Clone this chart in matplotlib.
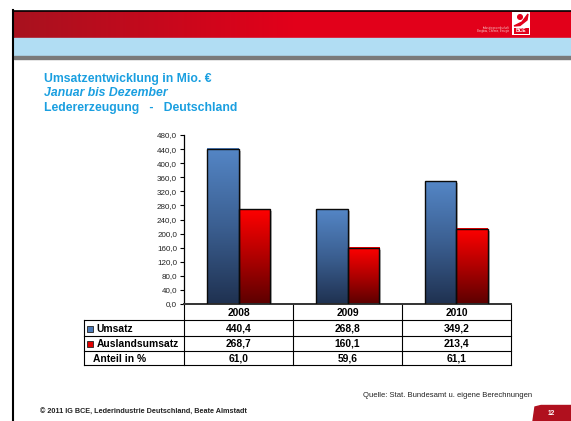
import numpy as np
import matplotlib
matplotlib.use('Agg')
import matplotlib.pyplot as plt
from matplotlib.patches import Rectangle, Circle, Polygon
from matplotlib.colors import LinearSegmentedColormap
import matplotlib.transforms as mtransforms

plt.rcParams['font.family'] = ['Liberation Sans', 'DejaVu Sans']

# data
years = ['2008', '2009', '2010']
umsatz = [440.4, 268.8, 349.2]
ausland = [268.7, 160.1, 213.4]
anteil = [61.0, 59.6, 61.1]
row_labels = ['Umsatz', 'Auslandsumsatz', 'Anteil in %']
title_lines = ['Umsatzentwicklung in Mio. €', 'Januar bis Dezember', 'Ledererzeugung   -   Deutschland']
yticks = list(range(0, 481, 40))

W, H = 571, 421
fig = plt.figure(figsize=(W / 100, H / 100), dpi=100)
fig.patch.set_facecolor('white')

# background axes in pixel coordinates
bg = fig.add_axes([0, 0, 1, 1])
bg.set_xlim(0, W)
bg.set_ylim(H, 0)
bg.axis('off')

# header: black frame line, red gradient band, light blue band, gray line
bg.plot([13, W], [10.5, 10.5], color='black', lw=1.2)
bg.plot([13, 13], [10, H], color='black', lw=1.5)
red_band = LinearSegmentedColormap.from_list('rb', ['#a8121f', '#e2001a', '#e3001b'])
bg.imshow(np.linspace(0, 1, 256)[None, :], cmap=red_band, extent=[14, W, 38, 11],
          aspect='auto', zorder=1)
bg.add_patch(Rectangle((14, 38), W - 14, 18, color='#b1ddf3', zorder=1))
bg.add_patch(Rectangle((14, 56), W - 14, 3, color='#7a7a7a', zorder=1))

# logo
bg.add_patch(Rectangle((512, 11.5), 18, 23, facecolor='white', edgecolor='none', zorder=2))
bg.add_patch(Circle((520, 17), 2.3, color='#e2001a', zorder=3))
bg.add_patch(Polygon([[514, 26], [522, 22], [528, 14], [527, 20], [520, 25.5]],
                     closed=True, color='#e2001a', zorder=3))
bg.add_patch(Rectangle((513.5, 28), 15, 5.5, facecolor='#e2001a', edgecolor='none', zorder=3))
bg.text(521, 31, 'BCE', color='white', fontsize=3.5, fontweight='bold', ha='center', va='center', zorder=4)
bg.text(509, 27.5, 'Industriegewerkschaft', color='#f3c0c0', fontsize=2, ha='right', va='center', zorder=4)
bg.text(509, 31, 'Bergbau, Chemie, Energie', color='#f3c0c0', fontsize=2, ha='right', va='center', zorder=4)

# titles
title_col = '#1a9fe0'
bg.text(44, 82, title_lines[0], color=title_col, fontsize=8.8, fontweight='bold', va='baseline')
bg.text(44, 95.5, title_lines[1], color=title_col, fontsize=8.8, fontweight='bold',
        fontstyle='italic', va='baseline')
bg.text(44, 110.5, title_lines[2], color=title_col, fontsize=8.8, fontweight='bold', va='baseline')

# chart axes
x_left, x_right, y_top, y_bot = 184, 511, 135, 304
ax = fig.add_axes([x_left / W, 1 - y_bot / H, (x_right - x_left) / W, (y_bot - y_top) / H])
ax.patch.set_alpha(0)

blue_cmap = LinearSegmentedColormap.from_list('bl', ['#1f3150', '#3b5f91', '#5486c6'])
red_cmap = LinearSegmentedColormap.from_list('rd', ['#5c0000', '#b00000', '#ff0000'])
grad = np.linspace(0, 1, 256)[:, None]
bw = 0.285
shadow_tr = ax.transData + mtransforms.ScaledTranslation(2 / 100, -2 / 100, fig.dpi_scale_trans)

x = np.arange(len(years))
for i in range(len(years)):
    for val, x0, cm in [(umsatz[i], x[i] - bw, blue_cmap), (ausland[i], x[i], red_cmap)]:
        ax.add_patch(Rectangle((x0, 0), bw, val, transform=shadow_tr, facecolor='#9a9a9a',
                               edgecolor='none', alpha=0.7, zorder=1))
        ax.imshow(grad, cmap=cm, origin='lower', extent=[x0, x0 + bw, 0, val],
                  aspect='auto', zorder=2)
        ax.add_patch(Rectangle((x0, 0), bw, val, fill=False, edgecolor='#0a0a0a', lw=1.0, zorder=3))

ax.set_xlim(-0.5, len(years) - 0.5)
ax.set_ylim(0, 480)
ax.set_yticks(yticks)
ax.set_yticklabels([f'{v:.1f}'.replace('.', ',') for v in yticks], fontsize=5.8, color='#222222')
ax.tick_params(axis='y', length=3, width=0.8, pad=2)
ax.set_xticks([])
for s in ['top', 'right']:
    ax.spines[s].set_visible(False)
ax.spines['left'].set_linewidth(0.9)
ax.spines['bottom'].set_linewidth(1.4)
ax.spines['bottom'].set_color('#333333')

# data table below
col_edges = [x_left, 293, 402, x_right]
row_edges = [304, 320, 336, 351, 365]
tab_lw = 0.8
for ye in row_edges[1:]:
    bg.plot([84, x_right], [ye, ye], color='black', lw=tab_lw)
bg.plot([84, 84], [row_edges[1], row_edges[-1]], color='black', lw=tab_lw)
for xe in col_edges:
    bg.plot([xe, xe], [row_edges[0], row_edges[-1]], color='black', lw=tab_lw)

tfs = 7.4
for j, yr in enumerate(years):
    cx = (col_edges[j] + col_edges[j + 1]) / 2
    bg.text(cx, (row_edges[0] + row_edges[1]) / 2 + 0.5, yr, fontsize=tfs, fontweight='bold',
            ha='center', va='center')

rows = [umsatz, ausland, anteil]
markers = ['#4a78b5', '#e00000', None]
for r, (lab, vals, mc) in enumerate(zip(row_labels, rows, markers)):
    cy = (row_edges[r + 1] + row_edges[r + 2]) / 2 + 0.5
    if mc is not None:
        bg.add_patch(Rectangle((87, cy - 3), 6, 6, facecolor=mc, edgecolor='#222222', lw=0.6))
        bg.text(96.5, cy, lab, fontsize=tfs, fontweight='bold', ha='left', va='center')
    else:
        bg.text(93, cy, lab, fontsize=tfs, fontweight='bold', ha='left', va='center')
    for j, v in enumerate(vals):
        cx = (col_edges[j] + col_edges[j + 1]) / 2
        bg.text(cx, cy, f'{v:.1f}'.replace('.', ','), fontsize=tfs, fontweight='bold',
                ha='center', va='center')

# footer
bg.text(363, 397, 'Quelle: Stat. Bundesamt u. eigene Berechnungen', fontsize=5.5,
        color='#222222', va='baseline')
bg.text(40, 414, '© 2011 IG BCE, Lederindustrie Deutschland, Beate Almstadt', fontsize=5.2,
        fontweight='bold', color='#222222', va='baseline')
bg.add_patch(Polygon([[533, H], [535, 407], [541, 405.5], [W, 405.5], [W, H]], closed=True,
                     color='#b0101e', zorder=2))
bg.text(551, 413.5, '12', color='white', fontsize=4.8, fontweight='bold', ha='center',
        va='center', zorder=3)

fig.savefig('out.png', dpi=100)
